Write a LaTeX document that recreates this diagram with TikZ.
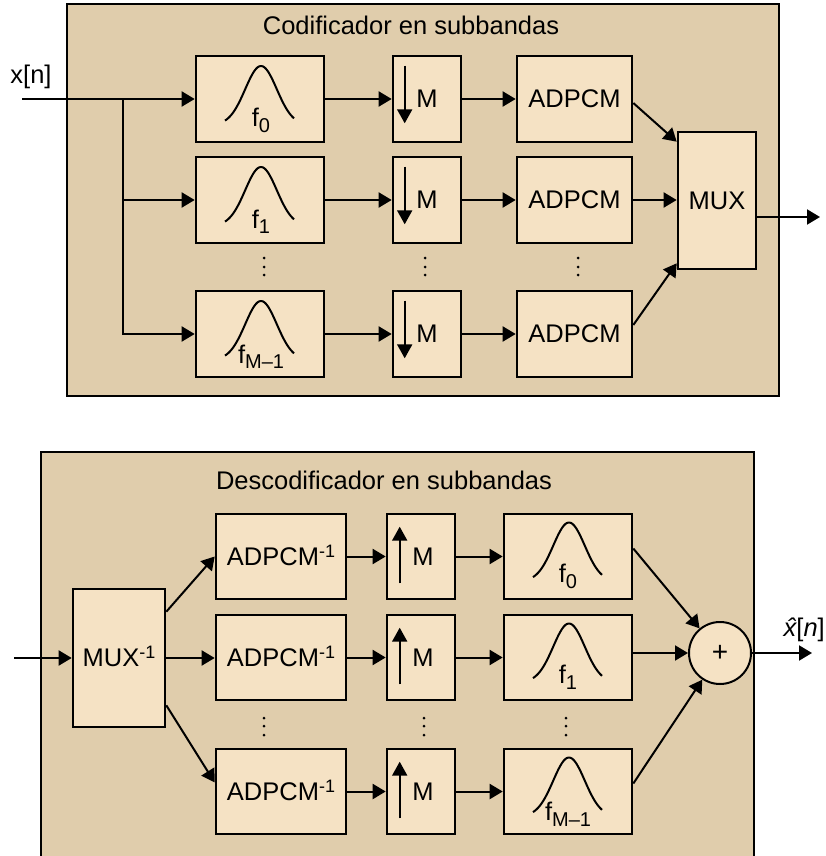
\documentclass[tikz,border=0pt]{standalone}
\usepackage{fontspec}
\setmainfont{Liberation Sans}
\usetikzlibrary{arrows.meta,calc}
\definecolor{panel}{RGB}{224,205,172}
\definecolor{boxfill}{RGB}{245,226,196}
\newcommand\mysub[1]{\raisebox{-5.5pt}{\fontsize{20}{20}\selectfont #1}}
\newcommand\mysup[1]{\smash{\raisebox{8pt}{\fontsize{18}{18}\selectfont #1}}}
\tikzset{
 txt/.style={font=\fontsize{25.5}{30}\selectfont, inner sep=0pt},
 blk/.style={draw=black, line width=2.6pt, fill=boxfill, inner sep=0pt, font=\fontsize{25.5}{30}\selectfont},
 conn/.style={line width=2pt, -{Triangle[length=13pt,width=15pt]}},
 inarrow/.style={line width=2pt, -{Triangle[length=14pt,width=15pt]}},
 bell/.style={line width=2pt},
 panelline/.style={line width=2pt, draw=black},
}
\begin{document}
\begin{tikzpicture}[x=1pt,y=-1pt]
\useasboundingbox (0,0) rectangle (826,856);
% panels
\draw[panelline, fill=panel] (67,4) rectangle (779,396);
\fill[panel] (41,452) rectangle (754,856);
\draw[panelline] (41,860) -- (41,452) -- (754,452) -- (754,860);

\node[txt] (t1) at (411,25) {Codificador en subbandas};
\node[txt] (t2) at (384,480) {Descodificador en subbandas};

% ---------------- encoder ----------------
\foreach \n/\yy/\s/\lb in {0/99/0/28,1/200/1/28,2/334/M–1/29}{
  \node[blk, minimum width=128pt, minimum height=86pt] (f\n) at (260,\yy) {};
  \draw[bell, shift={(f\n.center)}] plot[domain=-35:34, samples=50, smooth] (\x, {26-59*exp(-(\x-1)^2/500)});
  \node[txt, anchor=base] (fl\n) at ($(f\n.center)+(1,\lb)$) {f\mysub{\s}};
  \node[blk, minimum width=68pt, minimum height=86pt] (d\n) at (427,\yy) {M};
  \draw[inarrow] ($(d\n.north west)+(13,11)$) -- ($(d\n.south west)+(13,-20)$);
  \node[blk, minimum width=115pt, minimum height=86pt] (a\n) at (574.5,\yy) {ADPCM};
  \draw[conn] (f\n) -- (d\n);
  \draw[conn] (d\n) -- (a\n);
}
\node[blk, minimum width=78pt, minimum height=137pt] (mux) at (717,200.5) {MUX};

\node[txt] (xn) at (31,77) {x[n]};
\coordinate (xi) at (22,99);
\coordinate (br) at (123,99);
\draw[conn] (xi) -- (f0);
\draw[conn] (br) |- (f1);
\draw[conn] (br) |- (f2);

\draw[conn] ($(a0.east)+(0,4)$) -- ($(mux.north west)+(0,11)$);
\draw[conn] (a1.east) -- (a1.east -| mux.west);
\draw[conn] ($(a2.east)+(0,-9)$) -- ($(mux.south west)+(0,-7)$);
\coordinate (yo) at (820,217);
\draw[conn] (mux.east |- yo) -- (yo);

\foreach \xx in {264,425,578}{
  \foreach \yy in {258,267,275}{
    \fill (\xx,\yy) circle (1.5);
  }
}

% ---------------- decoder ----------------
\node[blk, minimum width=92pt, minimum height=138pt] (dm) at (119,658) {MUX\mysup{-1}};
\coordinate (zi) at (14,658);
\draw[conn] (zi) -- (dm.west);

\foreach \n/\yy/\s/\lb in {0/556.5/0/26,1/657.5/1/26,2/791.5/M–1/29}{
  \node[blk, minimum width=130pt, minimum height=85pt] (b\n) at (281,\yy) {ADPCM\mysup{-1}};
  \node[blk, minimum width=68pt, minimum height=85pt] (u\n) at (421,\yy) {\hspace*{4pt}M};
  \draw[inarrow] ($(u\n.south west)+(14,-17)$) -- ($(u\n.north west)+(14,14)$);
  \node[blk, minimum width=128pt, minimum height=85pt] (g\n) at (568,\yy) {};
  \draw[bell, shift={(g\n.center)}] plot[domain=-35:34, samples=50, smooth] (\x, {25-59*exp(-(\x-1)^2/500)});
  \node[txt, anchor=base] (gl\n) at ($(g\n.center)+(0,\lb)$) {f\mysub{\s}};
  \draw[conn] (b\n) -- (u\n);
  \draw[conn] (u\n) -- (g\n);
}

\draw[conn] ($(dm.north east)+(0,24)$) -- (b0.west);
\draw[conn] (dm.east) -- (dm.east -| b1.west);
\draw[conn] ($(dm.south east)+(0,-23)$) -- ($(b2.west)+(0,-9)$);

\node[draw, line width=2pt, fill=boxfill, circle, minimum size=62pt, inner sep=0pt, font=\fontsize{28}{30}\selectfont] (sum) at (720,653) {+};
\draw[conn] ($(g0.east)+(0,-8)$) -- (sum);
\draw[conn] (g1.east |- sum.west) -- (sum.west);
\draw[conn] ($(g2.east)+(0,-8)$) -- (sum);
\coordinate (zo) at (812,653);
\draw[conn] (sum.east) -- (zo);
\node[txt, anchor=east] (xh) at (825,630) {{\itshape \^x}[{\itshape n}]};

\foreach \xx in {264,424,566}{
  \foreach \yy in {718,726,735}{
    \fill (\xx,\yy) circle (1.5);
  }
}
\end{tikzpicture}
\end{document}
